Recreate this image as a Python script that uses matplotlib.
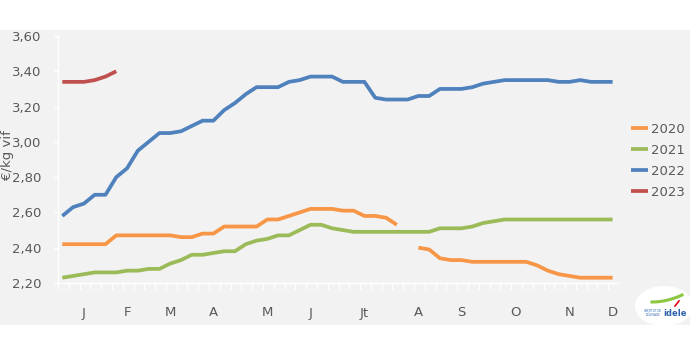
import matplotlib.pyplot as plt
import numpy as np
from matplotlib.patches import Rectangle, Ellipse

# weekly prices, €/kg vif, weeks 1..52
prix_2020 = [2.42, 2.42, 2.42, 2.42, 2.42, 2.47, 2.47, 2.47, 2.47, 2.47,
             2.47, 2.46, 2.46, 2.48, 2.48, 2.52, 2.52, 2.52, 2.52, 2.56,
             2.56, 2.58, 2.60, 2.62, 2.62, 2.62, 2.61, 2.61, 2.58, 2.58,
             2.57, 2.53, np.nan, 2.40, 2.39, 2.34, 2.33, 2.33, 2.32, 2.32,
             2.32, 2.32, 2.32, 2.32, 2.30, 2.27, 2.25, 2.24, 2.23, 2.23,
             2.23, 2.23]
prix_2021 = [2.23, 2.24, 2.25, 2.26, 2.26, 2.26, 2.27, 2.27, 2.28, 2.28,
             2.31, 2.33, 2.36, 2.36, 2.37, 2.38, 2.38, 2.42, 2.44, 2.45,
             2.47, 2.47, 2.50, 2.53, 2.53, 2.51, 2.50, 2.49, 2.49, 2.49,
             2.49, 2.49, 2.49, 2.49, 2.49, 2.51, 2.51, 2.51, 2.52, 2.54,
             2.55, 2.56, 2.56, 2.56, 2.56, 2.56, 2.56, 2.56, 2.56, 2.56,
             2.56, 2.56]
prix_2022 = [2.58, 2.63, 2.65, 2.70, 2.70, 2.80, 2.85, 2.95, 3.00, 3.05,
             3.05, 3.06, 3.09, 3.12, 3.12, 3.18, 3.22, 3.27, 3.31, 3.31,
             3.31, 3.34, 3.35, 3.37, 3.37, 3.37, 3.34, 3.34, 3.34, 3.25,
             3.24, 3.24, 3.24, 3.26, 3.26, 3.30, 3.30, 3.30, 3.31, 3.33,
             3.34, 3.35, 3.35, 3.35, 3.35, 3.35, 3.34, 3.34, 3.35, 3.34,
             3.34, 3.34]
prix_2023 = [3.34, 3.34, 3.34, 3.35, 3.37, 3.40]

mois = ['J', 'F', 'M', 'A', 'M', 'J', 'Jt', 'A', 'S', 'O', 'N', 'D']
semaine_mois = [2, 6, 10, 14, 19, 23, 28, 33, 37, 42, 47, 51]

series = [('2020', prix_2020, '#F79646'),
          ('2021', prix_2021, '#9BBB59'),
          ('2022', prix_2022, '#4F81BD'),
          ('2023', prix_2023, '#C0504D')]

gris = '#595959'

fig = plt.figure(figsize=(6.9, 3.5), dpi=100)
fig.patches.append(Rectangle((0, 25 / 350), 1, 295 / 350, transform=fig.transFigure,
                             facecolor='#f2f2f2', edgecolor='none', zorder=-10))

ax = fig.add_axes([58 / 690, 67 / 350, 560 / 690, 247 / 350])
ax.set_facecolor('none')

for nom, vals, coul in series:
    ax.plot(np.arange(len(vals)), vals, color=coul, lw=2.7, label=nom,
            solid_joinstyle='round', solid_capstyle='butt')

ax.set_xlim(-0.4, 51.5)
ax.set_ylim(2.2, 3.6)
ax.set_yticks(np.arange(2.2, 3.61, 0.2))
ax.set_yticklabels([f'{v:.2f}'.replace('.', ',') for v in np.arange(2.2, 3.61, 0.2)])
ax.set_xticks(np.arange(-0.4, 51.6, 1.0))
ax.set_xticklabels([])
ax.tick_params(axis='x', length=4, width=1, color='white')
ax.tick_params(axis='y', length=3, width=1, color='white', pad=9, labelsize=9.5, labelcolor=gris)

# month initials under the week axis
for sem, m in zip(semaine_mois, mois):
    ax.text(sem, -30 / 247, m, transform=ax.get_xaxis_transform(), ha='center',
            va='center', fontsize=9.5, color=gris)

for s in ['top', 'right']:
    ax.spines[s].set_visible(False)
for s in ['left', 'bottom']:
    ax.spines[s].set_color('white')
    ax.spines[s].set_linewidth(1)

fig.text(8 / 690, 1 - 155 / 350, '€/kg vif', rotation=90, ha='center', va='center',
         fontsize=9.5, color=gris)

ax.legend(loc='upper left', bbox_to_anchor=(631 / 690, 1 - 123 / 350),
          bbox_transform=fig.transFigure, frameon=False, fontsize=9.5,
          labelcolor=gris, handlelength=1.3, handletextpad=0.2, labelspacing=0.6,
          borderaxespad=0, borderpad=0)

# logo
fig.patches.append(Ellipse((664 / 690, 1 - 306 / 350), 58 / 690, 40 / 350,
                           transform=fig.transFigure, facecolor='white',
                           edgecolor='none', zorder=1))
fig.text(675 / 690, 1 - 313 / 350, 'idele', ha='center', va='center', fontsize=6,
         fontweight='bold', color='#2f63b0')
fig.text(653 / 690, 1 - 313 / 350, 'INSTITUT DE\nL\'ÉLEVAGE', ha='center', va='center',
         fontsize=2, color='#2f63b0', linespacing=1)
sw = np.linspace(0, 1, 20)
fig.add_artist(plt.Line2D(652 / 690 + sw * 30 / 690, 1 - (302 - 7 * sw ** 2) / 350,
                          color='#8dc63f', lw=2.2, transform=fig.transFigure))
fig.add_artist(plt.Line2D([675 / 690, 679 / 690], [1 - 306 / 350, 1 - 301 / 350],
                          color='#e30613', lw=1.2, transform=fig.transFigure))

fig.savefig('out.png', dpi=100)
